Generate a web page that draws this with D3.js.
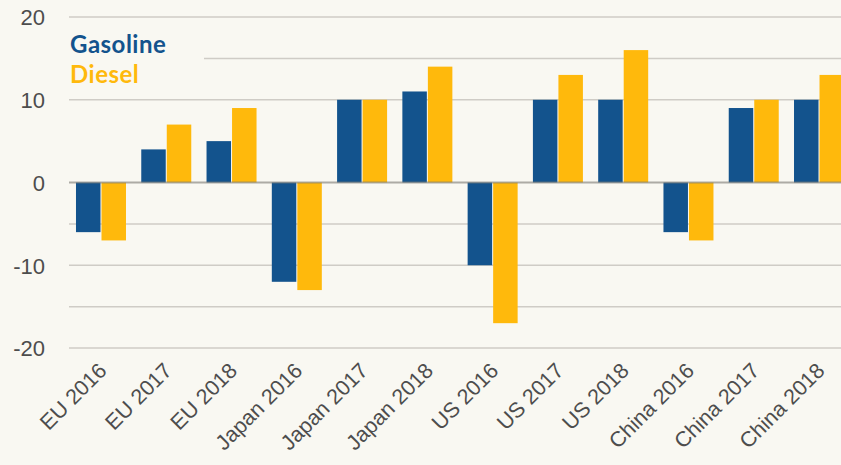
<!DOCTYPE html>
<html>
<head>
<meta charset="utf-8">
<script src="https://cdn.jsdelivr.net/npm/d3@7"></script>
<style>
  body { margin: 0; background: #f9f8f2; }
  svg { display: block; font-family: Lato, sans-serif; }
</style>
</head>
<body>
<div id="chart"></div>
<script>
const categories = ['EU 2016', 'EU 2017', 'EU 2018', 'Japan 2016', 'Japan 2017', 'Japan 2018',
  'US 2016', 'US 2017', 'US 2018', 'China 2016', 'China 2017', 'China 2018'];
const seriesNames = ['Gasoline', 'Diesel'];
const gasoline = [-6, 4, 5, -12, 10, 11, -10, 10, 10, -6, 9, 10];
const diesel = [-7, 7, 9, -13, 10, 14, -17, 13, 16, -7, 10, 13];
const yTicks = [-20, -10, 0, 10, 20];
const gridValues = [-20, -15, -10, -5, 10, 15, 20];

const colors = {Gasoline: '#13538d', Diesel: '#ffb90c'};

const width = 841;
const height = 465;
const margin = {top: 17, right: -10, bottom: 117, left: 69};

const data = categories.map((c, i) => ({category: c, Gasoline: gasoline[i], Diesel: diesel[i]}));

const svg = d3.select('#chart')
  .append('svg')
  .attr('width', width)
  .attr('height', height)
  .attr('viewBox', [0, 0, width, height]);

svg.append('rect').attr('width', width).attr('height', height).attr('fill', '#f9f8f2');

const x = d3.scaleBand()
  .domain(categories)
  .range([margin.left, width - margin.right])
  .paddingInner(0.234)
  .paddingOuter(0.107);

const xs = d3.scaleBand()
  .domain(seriesNames)
  .range([0, x.bandwidth()])
  .paddingInner(0.04);

const y = d3.scaleLinear()
  .domain([-20, 20])
  .range([height - margin.bottom, margin.top]);

// gridlines
svg.append('g')
  .selectAll('line')
  .data(gridValues)
  .join('line')
    .attr('x1', margin.left)
    .attr('x2', width)
    .attr('y1', d => y(d))
    .attr('y2', d => y(d))
    .attr('stroke', '#cfccc6')
    .attr('stroke-width', 1.5);

// legend background hides part of a gridline
svg.append('rect')
  .attr('x', margin.left - 2)
  .attr('y', 28)
  .attr('width', 137)
  .attr('height', 60)
  .attr('fill', '#f9f8f2');

// bars
svg.append('g')
  .selectAll('g')
  .data(data)
  .join('g')
    .attr('transform', d => `translate(${x(d.category)},0)`)
  .selectAll('rect')
  .data(d => seriesNames.map(k => ({key: k, value: d[k]})))
  .join('rect')
    .attr('x', d => xs(d.key))
    .attr('width', xs.bandwidth())
    .attr('y', d => y(Math.max(0, d.value)))
    .attr('height', d => Math.abs(y(d.value) - y(0)))
    .attr('fill', d => colors[d.key]);

// zero line
svg.append('line')
  .attr('x1', margin.left)
  .attr('x2', width)
  .attr('y1', y(0))
  .attr('y2', y(0))
  .attr('stroke', '#7a7872')
  .attr('stroke-opacity', 0.6)
  .attr('stroke-width', 2);

// y axis
const yAxis = g => g
  .attr('transform', `translate(${margin.left - 24},0)`)
  .call(d3.axisLeft(y).tickValues(yTicks).tickSize(0).tickPadding(0).tickFormat(d => String(d)))
  .call(g => g.select('.domain').remove())
  .call(g => g.selectAll('text')
    .attr('fill', '#4d4d4d')
    .attr('font-size', '22px')
    .attr('dy', '0.36em'));
svg.append('g').call(yAxis);

// x axis
const xAxis = g => g
  .attr('transform', `translate(0,${height - margin.bottom})`)
  .call(d3.axisBottom(x).tickSize(0).tickPadding(0))
  .call(g => g.select('.domain').remove())
  .call(g => g.selectAll('text')
    .attr('fill', '#4d4d4d')
    .attr('font-size', '21.5px')
    .attr('text-anchor', 'end')
    .attr('dy', 0)
    .attr('transform', 'translate(7,24) rotate(-45)'));
svg.append('g').call(xAxis);

// legend
svg.append('g')
  .selectAll('text')
  .data(seriesNames)
  .join('text')
    .attr('x', 70)
    .attr('y', (d, i) => 53 + i * 30)
    .attr('fill', d => colors[d])
    .attr('font-size', '24px')
    .attr('font-weight', 'bold')
    .attr('letter-spacing', '0.5px')
    .text(d => d);
</script>
</body>
</html>
